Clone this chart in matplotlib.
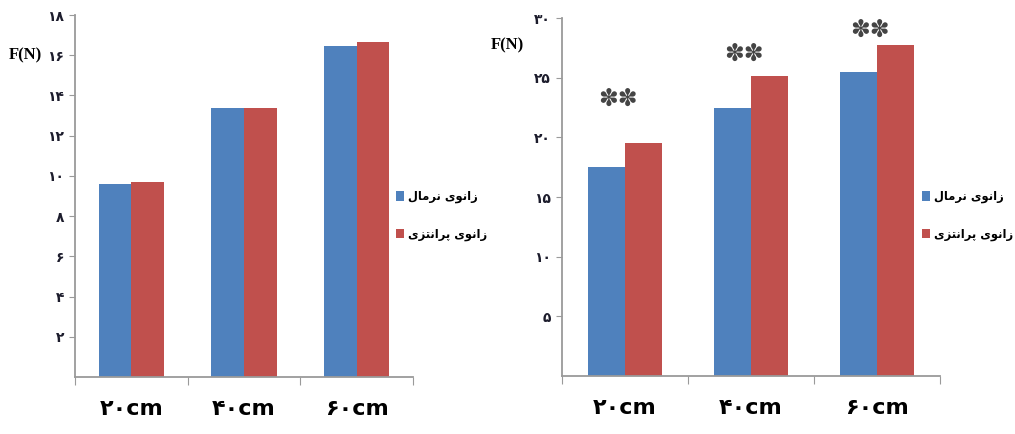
import matplotlib
matplotlib.use('Agg')
import matplotlib.pyplot as plt
import numpy as np

# Data
categories = ['۲۰cm', '۴۰cm', '۶۰cm']
left_normal = [9.6, 13.4, 16.45]
left_varus = [9.7, 13.4, 16.65]
right_normal = [17.5, 22.5, 25.5]
right_varus = [19.5, 25.1, 27.75]
right_star_y = [23.2, 27.0, 29.0]
left_yticks = [2, 4, 6, 8, 10, 12, 14, 16, 18]
right_yticks = [5, 10, 15, 20, 25, 30]
legend_labels = ['زانوی نرمال', 'زانوی پرانتزی']

BLUE = '#4F81BD'
RED = '#C0504D'
SPINE = '#9a9a9a'

# minimal Persian shaping (matplotlib has no text shaping)
FORMS = {
    'ا': '\uFE8D\uFE8E', 'ز': '\uFEAF\uFEB0', 'ر': '\uFEAD\uFEAE', 'و': '\uFEED\uFEEE',
    'ن': '\uFEE5\uFEE6\uFEE7\uFEE8', 'م': '\uFEE1\uFEE2\uFEE3\uFEE4',
    'ل': '\uFEDD\uFEDE\uFEDF\uFEE0', 'ی': '\uFBFC\uFBFD\uFBFE\uFBFF',
    'پ': '\uFB56\uFB57\uFB58\uFB59', 'ت': '\uFE95\uFE96\uFE97\uFE98',
}


def shape(text):
    out = []
    for i, ch in enumerate(text):
        if ch not in FORMS:
            out.append(ch)
            continue
        prev = text[i - 1] if i > 0 else ' '
        nxt = text[i + 1] if i + 1 < len(text) else ' '
        jp = prev in FORMS and len(FORMS[prev]) == 4
        jn = len(FORMS[ch]) == 4 and nxt in FORMS
        f = FORMS[ch]
        if jp and jn:
            out.append(f[3])
        elif jp:
            out.append(f[1])
        elif jn:
            out.append(f[2])
        else:
            out.append(f[0])
    return ''.join(out)[::-1]


def fa_num(n):
    return str(n).translate(str.maketrans('0123456789', '۰۱۲۳۴۵۶۷۸۹'))


fig = plt.figure(figsize=(10.15, 4.34), dpi=100)
ax1 = fig.add_axes([0.0739, 0.1313, 0.333, 0.8341])
ax2 = fig.add_axes([0.5537, 0.1336, 0.3724, 0.8249])

x = np.arange(len(categories))
w = 0.29


def style(ax, normal, varus, yticks, ymax):
    b1 = ax.bar(x - w / 2, normal, w, color=BLUE)
    b2 = ax.bar(x + w / 2, varus, w, color=RED)
    ax.set_xlim(-0.5, 2.5)
    ax.set_ylim(0, ymax)
    for s in ['top', 'right']:
        ax.spines[s].set_visible(False)
    for s in ['left', 'bottom']:
        ax.spines[s].set_color(SPINE)
        ax.spines[s].set_linewidth(1.3)
    ax.set_yticks(yticks, [fa_num(t) for t in yticks], fontweight='bold', fontsize=10, color='#1c1c2c')
    ax.tick_params(axis='y', length=4, color=SPINE, pad=4)
    ax.set_xticks([-0.5, 0.5, 1.5, 2.5], ['', '', '', ''])
    ax.tick_params(axis='x', which='major', length=6, color=SPINE)
    ax.set_xticks(x, categories, minor=True)
    ax.tick_params(axis='x', which='minor', length=0, pad=16, labelsize=16)
    for lab in ax.get_xticklabels(minor=True):
        lab.set_fontweight('bold')
    return b1, b2


h1 = style(ax1, left_normal, left_varus, left_yticks, 18)
h2 = style(ax2, right_normal, right_varus, right_yticks, 30)

for i, y in enumerate(right_star_y):
    ax2.text(x[i] - 0.06, y, '✽✽', ha='center', va='center', fontsize=17, color='#444444')

fig.text(25 / 1015, 1 - 55 / 434, 'F(N)', family='Liberation Serif', fontweight='bold',
         fontsize=12, ha='center', va='center')
fig.text(507 / 1015, 1 - 45 / 434, 'F(N)', family='Liberation Serif', fontweight='bold',
         fontsize=12, ha='center', va='center')

labels = [shape(t) for t in legend_labels]
for handles, x0 in [(h1, 396 / 1015), (h2, 922 / 1015)]:
    fig.legend(handles, labels, loc='upper left', bbox_to_anchor=(x0, 1 - 190 / 434),
               frameon=False, handlelength=0.7, handleheight=0.9, handletextpad=0.35,
               labelspacing=2.1, borderaxespad=0, borderpad=0,
               prop={'size': 8.3, 'weight': 'bold'})

fig.savefig('out.png', dpi=100)
